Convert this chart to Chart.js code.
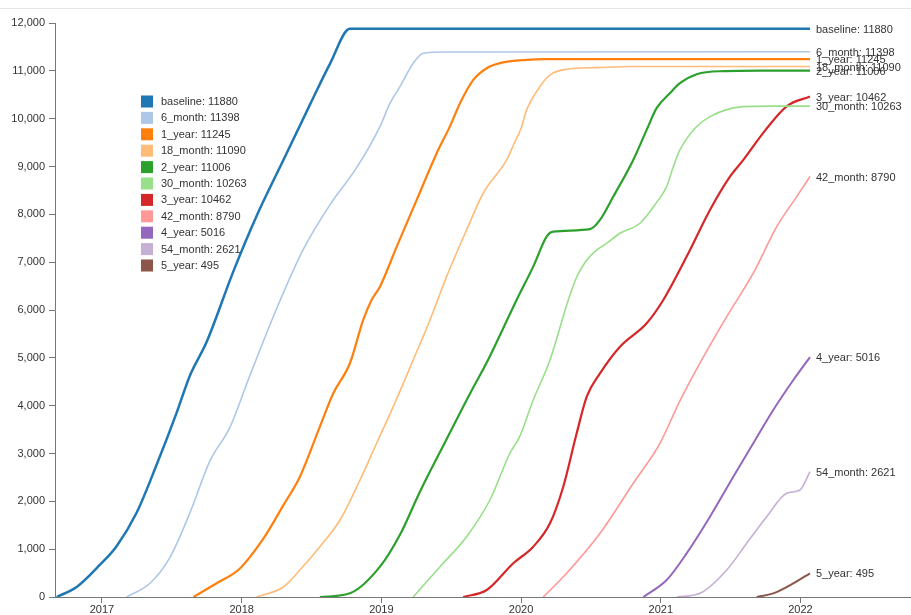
<!DOCTYPE html>
<html>
<head>
<meta charset="utf-8">
<script src="https://cdn.jsdelivr.net/npm/chart.js@4.4.1/dist/chart.umd.min.js"></script>
<style>
  html, body { margin: 0; padding: 0; background: #ffffff; }
  #wrap { position: relative; width: 911px; height: 615px; }
</style>
</head>
<body>
<div id="wrap"><canvas id="c" width="911" height="615"></canvas></div>
<script>
// ---- data: [decimal year, cumulative count] ----
const seriesNames = ["baseline", "6_month", "1_year", "18_month", "2_year", "30_month",
                     "3_year", "42_month", "4_year", "54_month", "5_year"];
const seriesColors = ["#1f77b4", "#aec7e8", "#ff7f0e", "#ffbb78", "#2ca02c", "#98df8a",
                      "#d62728", "#ff9896", "#9467bd", "#c5b0d5", "#8c564b"];
const seriesWidths = [2.5, 1.6, 2.2, 1.6, 2.2, 1.6, 2.2, 1.6, 2, 1.6, 2];

const baseline = [[2016.676,0],[2016.819,209],[2016.986,675],[2017.105,1063],[2017.248,1761],
  [2017.392,2769],[2017.535,3855],[2017.630,4631],[2017.749,5329],[2017.940,6803],
  [2018.107,7966],[2018.298,9130],[2018.489,10294],[2018.632,11147],[2018.775,11880],[2022.068,11880]];
const month6 = [[2017.177,0],[2017.344,287],[2017.487,830],[2017.630,1761],[2017.773,2847],
  [2017.916,3545],[2018.059,4631],[2018.250,6027],[2018.441,7268],[2018.632,8199],[2018.823,8975],
  [2018.990,9834],[2019.062,10323],[2019.133,10670],[2019.228,11160],[2019.300,11369],
  [2019.467,11395],[2022.068,11398]];
const year1 = [[2017.654,0],[2017.821,287],[2017.988,597],[2018.155,1218],[2018.298,1916],
  [2018.417,2515],[2018.560,3561],[2018.656,4259],[2018.775,4887],[2018.870,5792],[2018.930,6210],
  [2018.990,6488],[2019.110,7325],[2019.253,8301],[2019.396,9278],[2019.490,9834],[2019.563,10323],
  [2019.658,10810],[2019.754,11055],[2019.849,11160],[2020.040,11229],[2020.183,11243],[2022.068,11245]];
const month18 = [[2018.107,0],[2018.298,209],[2018.417,565],[2018.560,1052],[2018.704,1610],
  [2018.847,2446],[2018.966,3214],[2019.085,3979],[2019.228,4956],[2019.348,5792],[2019.467,6698],
  [2019.610,7674],[2019.729,8441],[2019.897,9138],[2019.950,9480],[2020.000,9800],[2020.040,10183],
  [2020.135,10670],[2020.207,10915],[2020.326,11034],[2020.540,11068],[2020.800,11090],[2022.068,11090]];
const year2 = [[2018.560,0],[2018.775,77],[2018.990,634],[2019.133,1300],[2019.276,2200],
  [2019.467,3300],[2019.634,4250],[2019.754,4900],[2019.968,6210],[2020.087,6907],
  [2020.183,7534],[2020.230,7638],[2020.493,7689],[2020.565,7883],[2020.660,8371],[2020.803,9138],
  [2020.899,9765],[2020.970,10219],[2021.065,10532],[2021.137,10741],[2021.257,10930],
  [2021.458,10995],[2021.710,11006],[2022.068,11006]];
const month30 = [[2019.228,0],[2019.420,634],[2019.610,1261],[2019.777,2028],[2019.920,3005],
  [2019.990,3352],[2020.087,4119],[2020.207,4956],[2020.338,6210],[2020.400,6700],[2020.470,7047],
  [2020.540,7250],[2020.613,7396],[2020.708,7605],[2020.851,7814],[2020.970,8250],[2021.042,8579],
  [2021.090,8998],[2021.137,9347],[2021.245,9800],[2021.352,10043],[2021.590,10252],
  [2021.780,10263],[2022.068,10263]];
const year3 = [[2019.586,0],[2019.754,146],[2019.944,705],[2020.087,1052],[2020.207,1541],
  [2020.302,2306],[2020.398,3423],[2020.470,4188],[2020.565,4677],[2020.708,5234],[2020.899,5723],
  [2021.018,6210],[2021.185,7116],[2021.352,8092],[2021.495,8789],[2021.591,9138],[2021.746,9750],
  [2021.903,10263],[2022.068,10462]];
const month42 = [[2020.159,0],[2020.326,495],[2020.565,1332],[2020.803,2377],[2020.994,3214],
  [2021.137,4100],[2021.293,4956],[2021.472,5861],[2021.662,6769],[2021.830,7743],[2021.973,8371],
  [2022.068,8790]];
const year4 = [[2020.875,0],[2021.042,355],[2021.185,913],[2021.352,1679],[2021.519,2515],
  [2021.662,3214],[2021.805,3910],[2021.949,4537],[2022.068,5016]];
const month54 = [[2021.114,0],[2021.281,77],[2021.472,565],[2021.615,1123],[2021.758,1679],
  [2021.901,2168],[2021.996,2237],[2022.068,2621]];
const year5 = [[2021.686,0],[2021.805,77],[2021.949,286],[2022.068,495]];

const seriesData = [baseline, month6, year1, month18, year2, month30, year3, month42, year4, month54, year5];

const yearTicks = [2017, 2018, 2019, 2020, 2021, 2022];
const countTicks = [0, 1000, 2000, 3000, 4000, 5000, 6000, 7000, 8000, 9000, 10000, 11000, 12000];
const xDomain = [2016.664, 2022.791];
const yDomain = [0, 12000];

const FONT = '"Liberation Sans", Arial, sans-serif';

// ---- plugins ----
const topRule = {
  id: 'topRule',
  beforeDraw(chart) {
    const c = chart.ctx;
    c.save();
    c.strokeStyle = '#e6e6e6';
    c.lineWidth = 1;
    c.beginPath();
    c.moveTo(0, 8.5);
    c.lineTo(chart.width, 8.5);
    c.stroke();
    c.restore();
  }
};

const endLabels = {
  id: 'endLabels',
  afterDatasetsDraw(chart) {
    const c = chart.ctx;
    const xs = chart.scales.x, ys = chart.scales.y;
    c.save();
    c.font = '11px ' + FONT;
    c.fillStyle = '#333';
    c.textAlign = 'left';
    c.textBaseline = 'middle';
    chart.data.datasets.forEach(ds => {
      const last = ds.data[ds.data.length - 1];
      const px = xs.getPixelForValue(last.x);
      const py = ys.getPixelForValue(last.y);
      c.fillText(ds.label + ': ' + last.y, px + 6, py + 1);
    });
    c.restore();
  }
};

const boxLegend = {
  id: 'boxLegend',
  afterDraw(chart) {
    const c = chart.ctx;
    c.save();
    c.font = '11px ' + FONT;
    c.textAlign = 'left';
    c.textBaseline = 'middle';
    chart.data.datasets.forEach((ds, i) => {
      const cy = 101.5 + i * 16.4;
      c.fillStyle = ds.borderColor;
      c.fillRect(141, cy - 6, 12, 12);
      c.fillStyle = '#333';
      c.fillText(ds.label + ': ' + ds.data[ds.data.length - 1].y, 161, cy + 0.5);
    });
    c.restore();
  }
};

const datasets = seriesNames.map((name, i) => ({
  label: name,
  data: seriesData[i].map(p => ({ x: p[0], y: p[1] })),
  borderColor: seriesColors[i],
  backgroundColor: seriesColors[i],
  borderWidth: seriesWidths[i],
  pointRadius: 0,
  fill: false,
  cubicInterpolationMode: 'monotone'
}));

new Chart(document.getElementById('c'), {
  type: 'line',
  data: { datasets },
  options: {
    responsive: false,
    animation: false,
    events: [],
    layout: { padding: { top: 23, left: 0, right: 0, bottom: 0 } },
    plugins: { legend: { display: false }, tooltip: { enabled: false } },
    scales: {
      x: {
        type: 'linear',
        min: xDomain[0], max: xDomain[1],
        afterBuildTicks: s => { s.ticks = yearTicks.map(v => ({ value: v })); },
        afterFit: s => { s.height = 18; },
        ticks: {
          callback: v => String(v),
          font: { size: 11, family: FONT },
          color: '#333',
          padding: 0,
          maxRotation: 0,
          autoSkip: false
        },
        grid: { drawOnChartArea: false, drawTicks: true, tickLength: 6, color: '#777' },
        border: { display: true, color: '#777', width: 1 }
      },
      y: {
        type: 'linear',
        min: yDomain[0], max: yDomain[1],
        afterBuildTicks: s => { s.ticks = countTicks.map(v => ({ value: v })); },
        afterFit: s => { s.width = 55; },
        ticks: {
          callback: v => v.toLocaleString('en-US'),
          font: { size: 11, family: FONT },
          color: '#333',
          padding: 4,
          autoSkip: false
        },
        grid: { drawOnChartArea: false, drawTicks: true, tickLength: 6, color: '#777' },
        border: { display: true, color: '#777', width: 1 }
      }
    }
  },
  plugins: [topRule, endLabels, boxLegend]
});
</script>
</body>
</html>
